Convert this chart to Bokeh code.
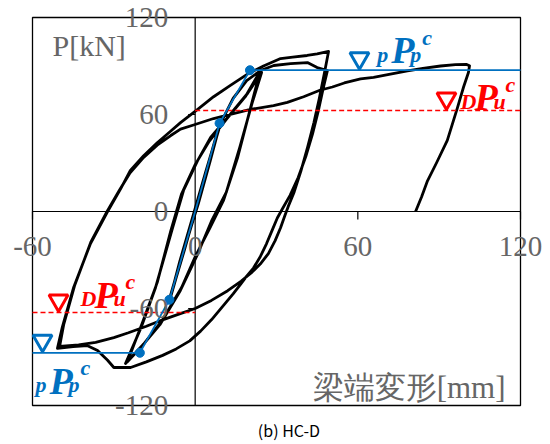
from bokeh.plotting import figure
from bokeh.models import ColumnDataSource, Range1d, LabelSet, Label
from bokeh.core.properties import value
from bokeh.embed import file_html
from bokeh.resources import INLINE

# ---- axes -------------------------------------------------------------
x_ticks = [-60, 0, 60, 120]
y_ticks = [-120, -60, 0, 60, 120]
x_lim = (-60, 120)
y_lim = (-120, 120)

# ---- reference strengths [kN] ----------------------------------------
pPp = 87.4   # pPp^c
DPu = 62.5   # DPu^c

# trilinear skeleton (positive / negative side)
skel_pos_d = [0.0, 9.0, 20.2]
skel_pos_p = [0.0, 54.6, pPp]
skel_neg_d = [0.0, -9.5, -20.4]
skel_neg_p = [0.0, -54.6, -pPp]

# ---- measured load-displacement record, by loading stage -------------
# small elastic cycles (about +-10 mm)
elastic_d = [0.0, 4.6, 9.0, 5.2, 0.9, -4.0, -9.5, -5.6, -1.0, 3.9, 9.3, 5.4, 1.1,
             -4.1, -9.6, -5.7, -1.2, 3.8, 9.5, 5.5, 1.2, -4.2, -9.8]
elastic_p = [0, 28, 54, 31, 5, -24, -55, -31, -5, 24, 55, 31, 5,
             -24, -56, -31, -5, 24, 56, 31, 5, -24, -56]

# two cycles at about +-20 mm
cyc20_d = [-5.0, 0.0, 5.0, 9.5, 14.0, 19.0, 24.0,
           20.4, 15.6, 10.5, 5.5, 0.0, -5.0, -12.0, -19.0, -25.7,
           -20.0, -14.6, -8.3, -4.3, 0.9, 5.7, 11.9, 19.3, 24.5,
           21.0, 16.5, 11.5, 6.0, 1.0, -5.5, -13.0, -19.5, -25.0,
           -19.5, -14.0, -9.0, -5.0, 0.0, 5.0, 11.5, 18.5, 24.1]
cyc20_p = [-28, 0, 30, 55, 70, 81, 87,
           64, 33, 7, -10, -28, -47, -67, -82, -94,
           -72, -47, -10, 13, 31.5, 45.8, 58, 73, 86,
           67, 40, 12, -6, -26, -49, -70, -83, -93,
           -69, -44, -12, 11, 29, 43, 57, 71, 87.2]

# first cycle at about +-50 mm
cyc50a_d = [29.0, 35.2, 41.4, 45.0, 48.8,
            47.2, 45.4, 43.3, 40.8, 38.0, 35.0, 32.3, 30.3, 28.3, 26.3, 24.0, 21.5,
            19.0, 17.0, 14.0, 10.0, 6.0, 2.0, -2.0, -7.0, -12.0, -18.0, -23.8,
            -30.0, -32.3, -36.0, -39.7, -45.0, -50.8]
cyc50a_p = [90.3, 91.5, 92.1, 89.0, 87.2,
            76, 62, 48, 34, 21, 10, 2, -4, -12, -20, -28, -35,
            -40, -44.5, -51, -59, -67, -74, -80, -85, -89, -93, -96.5,
            -96.5, -92, -86, -83, -83.5, -84.7]

# second cycle at about +-50 mm
cyc50b_d = [-49.0, -44.8, -38.6, -32.3, -27.5, -23.9, -19.0, -14.0, -9.5, -5.4,
            0.8, 6.8, 13.0, 19.3, 25.2, 31.5, 36.0, 41.3, 45.0, 49.2,
            47.6, 45.8, 43.8, 41.5, 39.0, 36.5, 34.3, 33.0, 31.5, 29.5, 27.0,
            24.0, 21.0, 17.0, 12.0, 6.0, 0.0, -6.0, -12.0, -18.0,
            -24.6, -30.0, -36.7, -43.0, -50.0]
cyc50b_p = [-71.5, -46.8, -19.8, 0, 14, 25.4, 34.5, 42.5, 49, 55,
            63, 71, 78, 85, 90, 94.6, 95.5, 96.5, 97.5, 99,
            85, 70, 55, 40, 25, 12, 3, -3, -10, -18, -26,
            -32.5, -37.5, -43, -49, -55, -60, -63.5, -67, -71,
            -75, -78, -81, -82.5, -83.5]

# final excursion to about +100 mm and unloading
final_d = [-48.5, -44.5, -38.5, -32.5, -28.0, -24.0, -19.0, -14.0, -9.0, -5.4,
           -0.6, 6.8, 14.1, 20.0, 28.9, 34.0, 40.0, 46.0, 50.6, 55.0,
           61.0, 65.8, 72.0, 78.3, 84.0, 90.5, 96.0, 100.0, 101.2,
           100.8, 99.0, 96.7, 93.0, 89.0, 85.7, 83.5, 81.3]
final_p = [-70, -46, -19, 0, 13, 24, 33.5, 41, 47, 51,
           53.5, 57.5, 60.6, 63, 65.5, 67.5, 71, 75, 77, 79.5,
           82, 83, 85, 87, 88.5, 90, 90.8, 91, 90.2,
           86, 77, 64, 44, 30, 19, 9, 0]

disp = elastic_d + cyc20_d + cyc50a_d + cyc50b_d + final_d
load = elastic_p + cyc20_p + cyc50a_p + cyc50b_p + final_p

BLUE = "#0070C0"
RED = "#FF0000"
GRAY = "#666666"
SERIF = "Liberation Serif"

# The plotting frame fills the whole canvas so that tick labels and the
# caption can sit outside the drawn axis box without being clipped.
W, H = 550, 444
box_l, box_r, box_t, box_b = 32, 520, 17, 405      # axis box in canvas pixels
kx = (x_lim[1] - x_lim[0]) / (box_r - box_l)
ky = (y_lim[1] - y_lim[0]) / (box_b - box_t)
xr = Range1d(x_lim[0] - box_l * kx, x_lim[1] + (W - box_r) * kx)
yr = Range1d(y_lim[0] - (H - box_b) * ky, y_lim[1] + box_t * ky)

p = figure(width=W, height=H, x_range=xr, y_range=yr,
           output_backend="svg", toolbar_location=None, title=None,
           x_axis_location=None, y_axis_location=None,
           min_border=0)
p.xgrid.visible = False
p.ygrid.visible = False
p.outline_line_color = None
p.background_fill_color = "white"
p.border_fill_color = "white"

# axis box
p.quad(left=[x_lim[0]], right=[x_lim[1]], bottom=[y_lim[0]], top=[y_lim[1]],
       fill_color=None, line_color="black", line_width=1.3)

# axes crossing at the origin
p.segment(x0=[0, x_lim[0]], y0=[y_lim[0], 0], x1=[0, x_lim[1]], y1=[y_lim[1], 0],
          line_color="black", line_width=1.2)

# tick marks pointing outward from the crossing axes
xt_len = 8 * ky
yt_len = 7 * kx
p.segment(x0=x_ticks, y0=[0] * len(x_ticks), x1=x_ticks, y1=[-xt_len] * len(x_ticks),
          line_color="black", line_width=1.2)
p.segment(x0=[0] * len(y_ticks), y0=y_ticks, x1=[-yt_len] * len(y_ticks), y1=y_ticks,
          line_color="black", line_width=1.2)

# hysteresis record
p.line(disp, load, line_color="black", line_width=2.8, line_join="round")

# DPu^c levels (dashed red)
p.segment(x0=[0, x_lim[0]], y0=[DPu, -DPu], x1=[x_lim[1], 0], y1=[DPu, -DPu],
          line_color=RED, line_width=1.5, line_dash="5 3")

# skeleton and pPp^c levels (blue)
p.line(skel_pos_d + [x_lim[1]], skel_pos_p + [pPp], line_color=BLUE, line_width=1.8)
p.line(skel_neg_d + [x_lim[0]], skel_neg_p + [-pPp], line_color=BLUE, line_width=1.8)
p.scatter(skel_pos_d[1:] + skel_neg_d[1:], skel_pos_p[1:] + skel_neg_p[1:],
          size=9, color=BLUE)

# open triangles marking the reference levels
tri_lift = 12 * ky
p.scatter([60.6, -56.3], [pPp + tri_lift, -pPp + tri_lift], marker="inverted_triangle",
          size=19, fill_color=None, line_color=BLUE, line_width=3)
p.scatter([92.7, -50.4], [DPu + tri_lift, -DPu + tri_lift], marker="inverted_triangle",
          size=19, fill_color=None, line_color=RED, line_width=3)

RAISE = 6  # px, lifts alphabetic-baseline labels


def level_label(x, y, dy, pre, sub, color):
    pieces = [(pre, 0, 0, "22px"), ("P", 14, 4, "38px"), (sub, 33, 0, "22px"), ("c", 45, 17, "22px")]
    for txt, ox, oy, size in pieces:
        p.add_layout(Label(x=x, y=y, x_offset=ox, y_offset=dy + oy + RAISE, text=txt,
                           text_font=SERIF, text_font_style="bold italic",
                           text_font_size=size, text_color=color,
                           text_baseline="alphabetic", text_align="left"))


level_label(67.2, pPp, 10, "p", "p", BLUE)
level_label(97.9, DPu, 3, "D", "u", RED)
level_label(-42.3, -DPu, 8, "D", "u", RED)
level_label(-58.9, -pPp, -38, "p", "p", BLUE)

# tick labels
xsrc = ColumnDataSource(dict(x=x_ticks, y=[0] * len(x_ticks), t=[str(v) for v in x_ticks]))
ysrc = ColumnDataSource(dict(x=[0] * len(y_ticks), y=y_ticks, t=[str(v) for v in y_ticks]))
p.add_layout(LabelSet(x="x", y="y", text="t", source=xsrc, y_offset=-35,
                      text_align="center", text_baseline="middle",
                      text_font=value(SERIF), text_font_size="29px", text_color=GRAY))
p.add_layout(LabelSet(x="x", y="y", text="t", source=ysrc, x_offset=-27,
                      text_align="right", text_baseline="middle",
                      text_font=value(SERIF), text_font_size="29px", text_color=GRAY))

# axis titles
p.add_layout(Label(x=x_lim[0], y=y_lim[1], x_offset=20, y_offset=-38 + RAISE + 4, text="P[kN]",
                   text_font=SERIF, text_font_size="30px", text_color=GRAY,
                   text_baseline="alphabetic"))
p.add_layout(Label(x=x_lim[1], y=y_lim[0], x_offset=-15, y_offset=12 + RAISE, text="梁端変形[mm]",
                   text_font=SERIF, text_font_size="31px", text_color=GRAY,
                   text_align="right", text_baseline="alphabetic"))

# panel caption
p.add_layout(Label(x=34.6, y=y_lim[0], y_offset=-28 + 4, text="(b) HC-D",
                   text_font="Noto Sans CJK JP", text_font_size="16px",
                   text_color="black", text_align="center", text_baseline="alphabetic"))

open("out.html", "w").write(file_html(p, INLINE))
